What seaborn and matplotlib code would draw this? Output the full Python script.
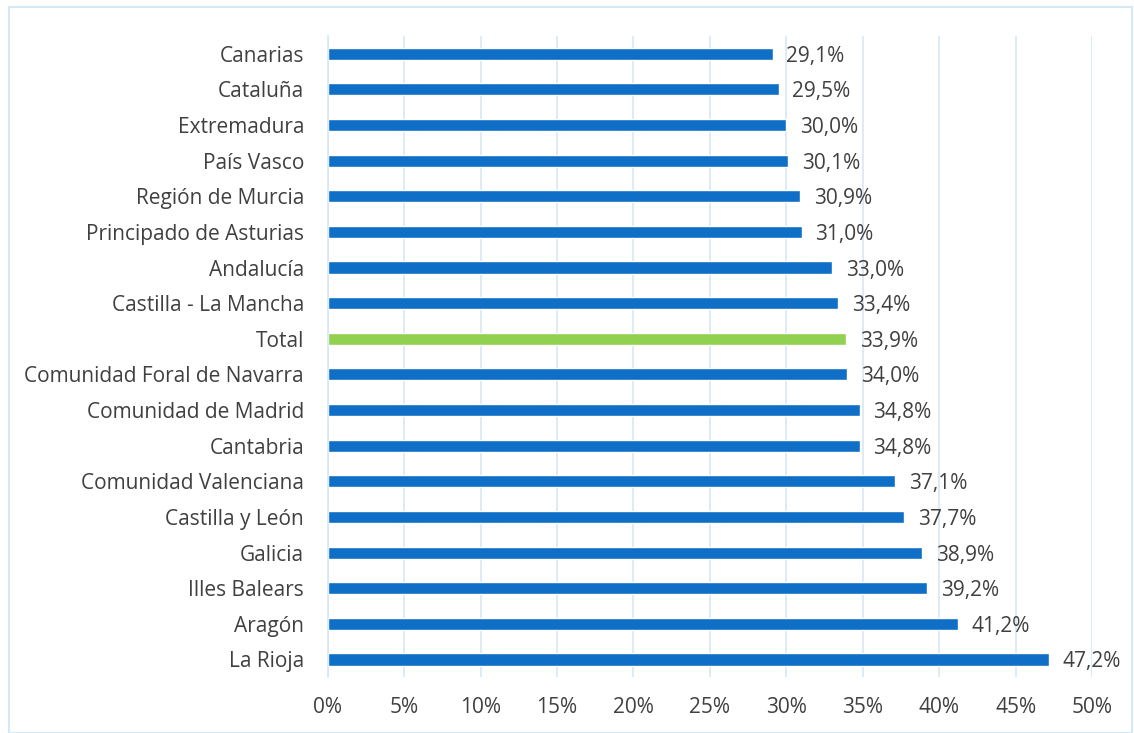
import pandas as pd
import numpy as np
import matplotlib.pyplot as plt
import seaborn as sns
from matplotlib.patches import Rectangle

regions = ['Canarias', 'Cataluña', 'Extremadura', 'País Vasco', 'Región de Murcia',
           'Principado de Asturias', 'Andalucía', 'Castilla - La Mancha', 'Total',
           'Comunidad Foral de Navarra', 'Comunidad de Madrid', 'Cantabria',
           'Comunidad Valenciana', 'Castilla y León', 'Galicia', 'Illes Balears',
           'Aragón', 'La Rioja']
values = [29.1, 29.5, 30.0, 30.1, 30.9, 31.0, 33.0, 33.4, 33.9, 34.0, 34.8, 34.8,
          37.1, 37.7, 38.9, 39.2, 41.2, 47.2]
ticks = [0, 5, 10, 15, 20, 25, 30, 35, 40, 45, 50]

sns.set_style('white')
plt.rcParams['font.family'] = ['Open Sans', 'DejaVu Sans']

data = pd.DataFrame({'Region': regions, 'Value': values})
colors = ['#92D050' if r == 'Total' else '#0F6FC6' for r in regions]

fig = plt.figure(figsize=(11.34, 7.33), dpi=100)
ax = fig.add_axes([0.289, 0.076, 0.674, 0.875])

sns.barplot(x='Value', y='Region', data=data, hue='Region', palette=colors,
            legend=False, width=0.34, saturation=1, ax=ax, orient='h')

text_color = '#404040'
fs = 15
for i, v in enumerate(values):
    ax.text(v + 0.9, i, f'{v:.1f}%'.replace('.', ','), va='center_baseline', ha='left',
            fontsize=fs, color=text_color)

ax.set_xlim(0, 50)
ax.set_ylim(17.5, -0.5)
ax.set_xticks(ticks)
ax.set_xticklabels([f'{t}%' for t in ticks])
ax.xaxis.grid(True, color='#D5E8F5', linewidth=1.2)
ax.set_axisbelow(True)
ax.tick_params(axis='both', length=0, labelsize=fs, labelcolor=text_color)
ax.tick_params(axis='x', pad=14)
ax.tick_params(axis='y', pad=17)
ax.set_xlabel('')
ax.set_ylabel('')
for s in ['top', 'right', 'bottom']:
    ax.spines[s].set_visible(False)
ax.spines['left'].set_color('#D5E8F5')
ax.spines['left'].set_linewidth(1.2)

fig.patches.append(Rectangle((0.008, 0.0), 0.99, 0.99, transform=fig.transFigure,
                             fill=False, edgecolor='#D5E8F5', linewidth=1.5))

plt.savefig('out.png', dpi=100)
